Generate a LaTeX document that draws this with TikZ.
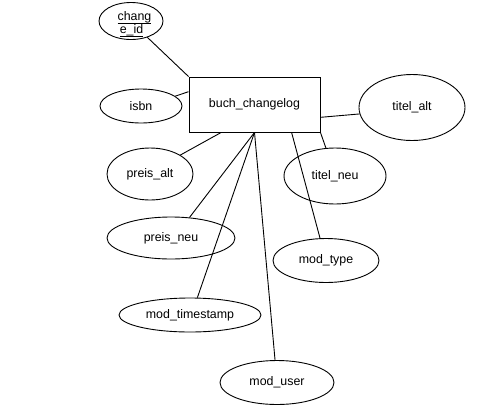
\documentclass[tikz,border=0pt]{standalone}
\usepackage{fontspec}
\setmainfont{Liberation Sans}
\usetikzlibrary{shapes.geometric}
\newcommand\keyul[1]{\setbox0\hbox{#1}\rlap{\rule[-4.2pt]{\wd0}{0.9pt}}\box0}
\begin{document}
\begin{tikzpicture}[x=1pt,y=-1pt,
  every node/.style={font=\fontsize{12.4}{15}\selectfont, inner sep=0pt},
  attr/.style={draw, ellipse, line width=0.9pt},
  ent/.style={draw, rectangle, line width=0.9pt, minimum width=131pt, minimum height=55pt},
  conn/.style={line width=0.9pt},
  keytext/.style={anchor=base}]
\useasboundingbox (0,0) rectangle (500,410);
\node[ent] (r) at (254.5,104.5) {buch\_changelog};
\node[attr, minimum width=64pt, minimum height=37pt] (ci) at (131,21) {};
\node[keytext] (ci1) at (134.5,20) {\keyul{chang}};
\node[keytext] (ci2) at (131.5,33) {\keyul{e\_id}};
\node[attr, minimum width=82pt, minimum height=34pt] (is) at (141,106) {isbn};
\node[attr, minimum width=106pt, minimum height=66pt] (ta) at (412,107.5) {titel\_alt};
\node[attr, minimum width=86pt, minimum height=52pt] (pa) at (150,174) {preis\_alt};
\node[attr, minimum width=102pt, minimum height=56pt] (tn) at (335,176) {titel\_neu};
\node[attr, minimum width=128pt, minimum height=42pt] (pn) at (171,238) {preis\_neu};
\node[attr, minimum width=106pt, minimum height=44pt] (my) at (326,260.5) {mod\_type};
\node[attr, minimum width=142pt, minimum height=34pt] (mt) at (190,315) {mod\_timestamp};
\node[attr, minimum width=114pt, minimum height=44pt] (mu) at (277,382.5) {mod\_user};
\draw[conn] (ci.-45) -- (r.north west);
\draw[conn] (is.16) -- (r.169.3);
\draw[conn] (ta.187.5) -- (r.-11.6);
\draw[conn] (pa.32) -- (r.-140.6);
\draw[conn] (pn.48) -- (r.south);
\draw[conn] (mt.67.6) -- (r.south);
\draw[conn] (mu.95) -- (r.south);
\draw[conn] (my.105) -- (r.-37);
\draw[conn] (tn.108) -- (r.south east);
\end{tikzpicture}
\end{document}
